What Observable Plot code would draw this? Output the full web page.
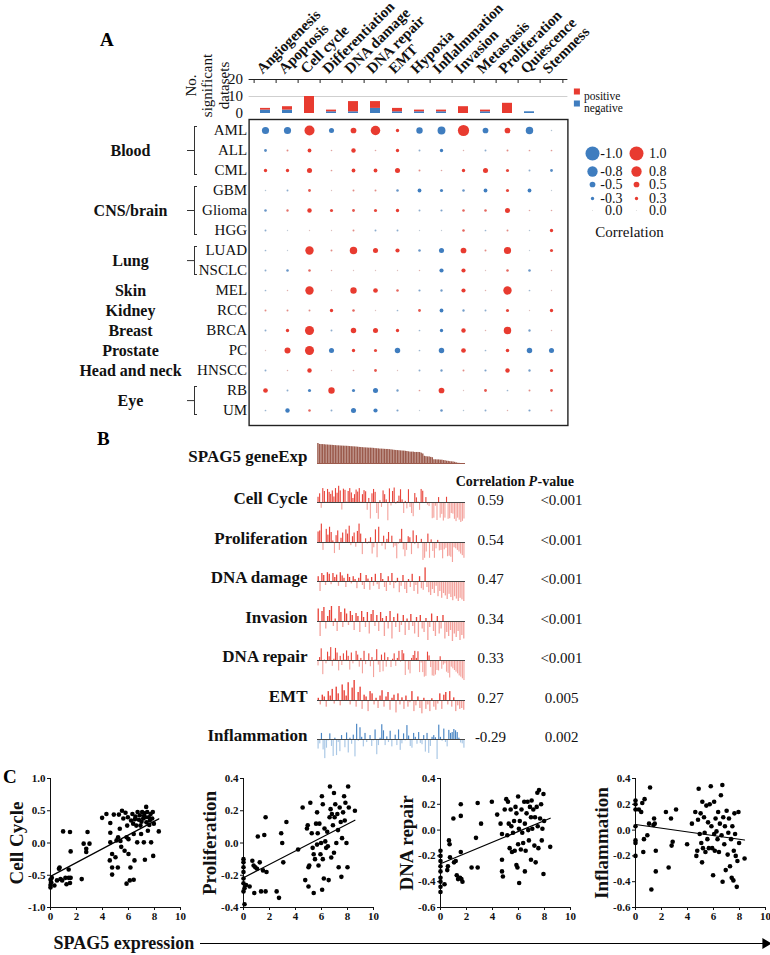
<!DOCTYPE html>
<html><head><meta charset="utf-8">
<script src="https://cdn.jsdelivr.net/npm/d3@7"></script>
<script src="https://cdn.jsdelivr.net/npm/@observablehq/plot@0.6"></script>
<style>
body{margin:0;background:#fff;}
#fig{position:relative;width:770px;height:955px;overflow:hidden;font-family:"Liberation Serif","Times New Roman",serif;}
#fig svg{position:absolute;overflow:visible;background:transparent;}
.letter{position:absolute;font-weight:bold;font-size:19px;line-height:1;color:#000;}
</style></head><body>
<div id="fig">
<div class="letter" style="left:100px;top:30px">A</div>
<div class="letter" style="left:97px;top:429px">B</div>
<div class="letter" style="left:3px;top:767px">C</div>
</div>
<script>
// ---------- DATA ----------
const pathways = ["Angiogenesis","Apoptosis","Cell cycle","Differentiation","DNA damage","DNA repair","EMT","Hypoxia","Inflalmmation","Invasion","Metastasis","Proliferation","Quiescence","Stemness"];
const sigPositive = [1,2,10,1,6,4,2,1,1,4,1,6,0,0];
const sigNegative = [2,2,0,1,1,3,1,1,1,0,1,0,1,0];
const cancerTypes = ["AML","ALL","CML","GBM","Glioma","HGG","LUAD","NSCLC","MEL","RCC","BRCA","PC","HNSCC","RB","UM"];
const groupNames = ["Blood","CNS/brain","Lung","Skin","Kidney","Breast","Prostate","Head and neck","Eye"];
const groupMembers = [["AML","ALL","CML"],["GBM","Glioma","HGG"],["LUAD","NSCLC"],["MEL"],["RCC"],["BRCA"],["PC"],["HNSCC"],["RB","UM"]];
// correlation of SPAG5 with each pathway (rows = cancerTypes, cols = pathways)
const corrRows = [
 [-0.6,-0.6,0.78,-0.45,0.5,0.75,0.3,-0.55,-0.65,0.85,-0.5,0.5,-0.62,-0.08],
 [-0.25,0.15,0.35,0.1,0.4,0.1,0.3,-0.15,-0.3,0.08,-0.15,0.15,0.12,0.12],
 [0.3,0.3,0.45,0.12,0.35,0.35,0.45,0.15,0.1,0.3,0.45,0.28,-0.15,-0.25],
 [-0.08,-0.15,0.25,0.05,0.15,0.15,-0.22,-0.35,-0.28,-0.22,-0.35,0.28,-0.35,-0.05],
 [-0.22,0.2,0.4,0.28,0.25,0.28,0.3,-0.15,-0.18,0.22,0.22,0.45,0.1,0.1],
 [-0.15,-0.05,0.05,0.05,0.15,-0.15,-0.15,-0.05,-0.05,0.22,-0.12,0.15,-0.08,0.3],
 [-0.12,-0.05,0.68,0.15,0.62,0.45,0.38,-0.22,-0.45,0.5,0.15,0.6,-0.05,0.28],
 [-0.15,-0.22,0.22,0.08,0.05,0.05,0.05,0.08,-0.38,0.38,0.05,0.22,-0.22,0.08],
 [-0.12,0.08,0.68,0.05,0.55,0.42,0.22,-0.18,-0.2,0.38,0.08,0.68,-0.12,0.05],
 [0.15,0.15,0.15,0.3,0.22,0.05,-0.12,0.25,-0.35,-0.2,-0.15,0.28,0.05,0.3],
 [-0.15,0.3,0.72,-0.15,0.48,0.45,0.3,-0.12,-0.3,0.4,0.08,0.62,-0.2,0.08],
 [0.05,0.52,0.72,-0.45,0.3,0.28,-0.48,-0.12,-0.48,0.42,-0.12,0.32,-0.48,-0.45],
 [-0.15,0.08,0.4,0.05,0.1,0.25,0.05,-0.15,-0.2,0.15,-0.18,0.4,-0.2,0.28],
 [0.42,-0.15,-0.28,0.55,-0.28,-0.45,-0.2,0.12,0.5,0.05,0.25,-0.12,0.15,0.25],
 [-0.12,-0.4,0.22,-0.15,-0.45,-0.38,-0.18,-0.05,-0.22,-0.08,-0.15,0.08,-0.18,0.18]
];
const legendNeg = [-1.0,-0.8,-0.5,-0.3,0.0];
const legendPos = [1.0,0.8,0.5,0.3,0.0];

// Panel C samples: [SPAG5 expression, pathway score]
const cellCyclePts = [[0,-0.69],[0,-0.65],[0.05,-0.61],[0,-0.57],[0.1,-0.54],[0.3,-0.66],[0.5,-0.58],[0.65,-0.4],[0.7,-0.38],[0.77,-0.56],[0.9,-0.58],[0.97,0.18],[1.15,-0.54],[1.23,-0.64],[1.4,-0.54],[1.5,-0.62],[1.4,-0.41],[1.55,-0.54],[1.5,0.17],[1.55,-0.13],[2.4,-0.56],[2.55,-0.01],[2.75,-0.09],[2.75,-0.14],[2.85,0.17],[3.0,-0.01],[3.97,0.39],[4.3,0.45],[4.6,0.31],[4.6,0.16],[4.6,0.01],[4.56,-0.27],[4.74,-0.17],[4.74,-0.38],[4.74,-0.49],[4.87,0.44],[5.0,-0.22],[5.08,0.04],[5.18,-0.38],[5.26,0.44],[5.33,0.22],[5.38,0.03],[5.44,-0.06],[5.5,0.5],[5.6,0.38],[5.7,-0.12],[5.77,0.47],[5.85,0.09],[5.85,-0.63],[5.9,0.27],[5.95,0.4],[6.0,0.06],[6.0,-0.17],[6.1,-0.58],[6.15,-0.38],[6.2,0.35],[6.3,0.45],[6.36,0.3],[6.4,0.14],[6.4,-0.57],[6.46,-0.27],[6.54,0.41],[6.6,0.27],[6.67,0.01],[6.7,0.48],[6.8,0.36],[6.87,0.43],[6.92,0.27],[6.97,0.14],[7.05,0.48],[7.13,0.38],[7.18,0.01],[7.23,0.46],[7.26,-0.26],[7.3,0.4],[7.36,0.56],[7.38,0.32],[7.44,0.48],[7.49,0.19],[7.56,0.4],[7.64,0.35],[7.7,0.45],[7.74,0.01],[7.82,0.38],[7.87,0.48],[7.9,-0.2],[7.95,0.3],[8.33,0.18],[7.0,0.33],[7.6,0.28],[6.5,0.37],[7.2,0.42],[5.2,0.09]];
const proliferationPts = [[0,-0.1],[0,-0.12],[0,-0.15],[0,-0.18],[0,-0.22],[0,-0.25],[0.08,-0.28],[0,-0.3],[0.08,-0.38],[0.2,-0.26],[0.47,-0.27],[0.68,-0.11],[0.78,-0.14],[0.83,-0.31],[0.91,-0.15],[1.04,-0.16],[1.1,0.04],[1.25,-0.12],[1.35,-0.3],[1.5,-0.17],[1.6,0.05],[1.7,0.16],[1.7,-0.3],[1.77,-0.18],[2.55,-0.3],[2.73,-0.34],[2.9,0.06],[2.98,0.0],[3.06,-0.12],[3.3,0.13],[4.2,-0.04],[4.55,0.22],[4.75,-0.23],[4.88,0.09],[5.0,-0.27],[4.94,0.11],[5.0,-0.15],[5.06,-0.14],[5.14,0.25],[5.25,0.06],[5.32,-0.03],[5.4,-0.07],[5.4,-0.31],[5.5,-0.1],[5.58,0.12],[5.66,0.19],[5.66,-0.01],[5.71,0.06],[5.77,-0.14],[5.84,0.12],[5.92,-0.07],[5.97,0.0],[6.03,0.29],[6.05,-0.29],[6.1,-0.1],[6.1,0.24],[6.18,-0.22],[6.23,0.09],[6.29,0.01],[6.36,-0.03],[6.44,0.07],[6.49,-0.02],[6.55,-0.23],[6.62,0.16],[6.65,0.35],[6.7,0.21],[6.75,-0.09],[6.8,0.18],[6.88,0.11],[6.96,0.31],[6.96,-0.06],[7.01,0.16],[7.06,0.24],[7.14,0.0],[7.22,0.18],[7.27,0.08],[7.32,-0.15],[7.4,0.22],[7.48,0.13],[7.53,-0.21],[7.58,0.03],[7.66,0.19],[7.74,0.29],[7.79,0.14],[7.84,0.25],[7.92,0.0],[8.0,-0.15],[8.05,0.35],[8.1,0.22],[8.57,0.2]];
const dnaRepairPts = [[0,-0.16],[0,-0.2],[0,-0.24],[0,-0.28],[0,-0.32],[0,-0.37],[0,-0.4],[0,-0.44],[0,-0.48],[0.31,-0.42],[0.52,-0.31],[0.57,-0.28],[0.65,-0.08],[0.7,-0.11],[0.73,-0.21],[0.99,0.09],[1.04,-0.25],[1.17,-0.24],[1.25,-0.35],[1.35,-0.38],[1.5,-0.37],[1.56,0.2],[1.61,-0.38],[1.56,0.11],[1.56,-0.17],[1.69,-0.4],[2.39,-0.29],[2.73,-0.06],[2.86,0.21],[2.86,-0.29],[3.12,0.05],[3.95,0.22],[4.36,0.12],[4.62,0.05],[4.73,-0.03],[4.73,-0.23],[4.73,-0.32],[4.8,-0.36],[4.94,0.16],[5.06,0.24],[5.14,-0.04],[5.19,0.22],[5.25,0.05],[5.32,-0.14],[5.4,0.16],[5.45,0.03],[5.5,-0.17],[5.58,-0.02],[5.66,0.07],[5.71,-0.16],[5.77,0.18],[5.84,0.13],[5.84,-0.27],[5.92,-0.29],[5.97,0.26],[5.97,-0.11],[6.03,0.01],[6.05,-0.41],[6.1,0.07],[6.18,-0.15],[6.23,0.16],[6.29,-0.02],[6.36,-0.1],[6.44,0.22],[6.49,0.05],[6.49,-0.32],[6.55,-0.16],[6.62,0.13],[6.7,0.22],[6.75,0.0],[6.8,-0.08],[6.88,0.18],[6.96,0.1],[6.96,-0.23],[7.01,0.23],[7.06,0.01],[7.14,0.16],[7.22,-0.12],[7.27,0.1],[7.32,-0.25],[7.4,0.18],[7.45,0.29],[7.48,0.03],[7.53,-0.14],[7.58,0.31],[7.66,0.09],[7.74,0.2],[7.79,-0.08],[7.84,0.01],[7.92,0.28],[7.92,-0.34],[7.97,0.07],[8.44,-0.13]];
const inflammationPts = [[0,0.23],[0,0.2],[0,0.16],[0,0.03],[0,-0.08],[0,-0.1],[0,-0.2],[0.26,0.16],[0.44,0.14],[0.52,0.21],[0.6,-0.17],[0.65,-0.07],[0.7,0.24],[0.91,-0.04],[1.04,0.05],[1.12,0.33],[1.22,-0.46],[1.38,0.04],[1.43,0.09],[1.48,0.05],[1.56,-0.32],[1.56,-0.16],[2.34,0.14],[2.55,-0.29],[2.73,0.09],[2.78,-0.12],[2.86,-0.09],[3.12,0.16],[3.97,-0.11],[4.34,0.05],[4.6,0.14],[4.68,-0.2],[4.75,-0.16],[4.81,0.08],[4.86,0.32],[4.94,-0.03],[5.01,0.13],[5.06,-0.1],[5.12,-0.25],[5.14,0.22],[5.19,-0.14],[5.27,0.1],[5.32,-0.02],[5.38,-0.17],[5.45,0.19],[5.53,-0.07],[5.58,0.06],[5.64,-0.14],[5.71,0.2],[5.79,0.34],[5.84,0.03],[5.9,-0.14],[5.97,-0.35],[6.05,-0.03],[6.05,0.22],[6.1,-0.16],[6.16,0.09],[6.23,-0.01],[6.31,-0.07],[6.36,0.14],[6.42,-0.17],[6.49,0.05],[6.57,0.27],[6.62,-0.04],[6.68,0.35],[6.7,-0.4],[6.75,0.1],[6.83,-0.11],[6.88,0.03],[6.94,-0.31],[7.01,0.15],[7.09,-0.19],[7.14,-0.02],[7.19,0.09],[7.27,-0.28],[7.35,-0.07],[7.4,-0.37],[7.45,0.03],[7.53,-0.39],[7.56,-0.16],[7.61,0.13],[7.66,-0.03],[7.71,-0.2],[7.79,-0.44],[7.84,-0.24],[7.92,0.14],[7.97,-0.1],[8.39,-0.22]];

// Panel B scores ordered by SPAG5 expression (high -> low) for pathways without a scatter
const dnaDamageScores = [0.12,-0.25,0.2,0.15,-0.1,0.22,0.18,-0.08,0.2,0.1,0.16,-0.12,0.22,0.14,0.08,-0.15,0.18,0.1,-0.06,0.12,0.05,-0.18,0.08,0.2,-0.1,-0.2,0.15,0.06,-0.22,0.1,-0.12,0.18,-0.08,-0.2,0.2,0.05,-0.15,-0.25,0.12,-0.1,0.2,-0.18,-0.05,0.08,-0.28,-0.12,0.15,-0.2,-0.3,0.05,-0.15,0.18,-0.25,-0.1,-0.32,0.12,-0.18,-0.22,0.34,-0.15,-0.28,-0.35,-0.2,-0.3,-0.12,-0.38,-0.25,-0.42,-0.3,-0.36,-0.45,-0.32,-0.4,-0.48,-0.38,-0.44,-0.5,-0.42,-0.46,-0.5];
const invasionScores = [0.25,-0.3,0.2,0.28,-0.15,0.1,0.22,0.3,-0.1,0.05,-0.2,0.3,0.18,-0.12,0.25,0.15,-0.08,0.2,0.12,-0.18,0.16,0.1,-0.22,0.2,0.08,-0.12,0.18,-0.25,0.14,0.22,-0.1,0.12,-0.2,0.18,0.06,-0.3,0.1,-0.15,0.2,-0.35,0.08,-0.12,0.15,-0.22,-0.08,0.12,-0.28,0.05,-0.18,0.14,-0.1,-0.25,0.08,-0.32,0.12,-0.15,-0.22,0.06,-0.38,-0.12,0.15,-0.2,-0.3,0.1,-0.25,-0.15,0.12,-0.35,-0.22,-0.3,-0.18,-0.4,-0.25,-0.32,-0.2,-0.38,-0.28,-0.35];
const emtScores = [0.05,-0.1,0.12,0.08,-0.15,0.2,0.1,0.25,-0.08,0.3,0.15,-0.12,0.35,0.22,0.1,0.4,-0.1,0.28,0.45,-0.15,0.18,0.3,-0.2,0.12,0.08,-0.25,0.2,0.15,-0.1,0.05,-0.18,0.1,0.22,-0.15,0.08,0.18,-0.22,0.05,0.12,-0.28,0.15,-0.1,0.06,-0.2,0.1,-0.15,-0.05,0.2,-0.25,-0.12,0.08,-0.18,-0.3,0.05,-0.2,-0.1,-0.25,0.04,-0.15,-0.22,-0.08,0.15,-0.2,0.12,0.18,-0.1,0.2,-0.15,0.06,-0.25,-0.12,-0.2,-0.18,-0.22];
const panelBLabels = ["Cell Cycle","Proliferation","DNA damage","Invasion","DNA repair","EMT","Inflammation"];
const panelBCorr = [0.59,0.54,0.47,0.34,0.33,0.27,-0.29];
const panelBP = ["<0.001","<0.001","<0.001","<0.001","<0.001","0.005","0.002"];

// ---------- STYLE / LAYOUT ----------
const RED = "#e83b30", BLUE = "#3f7dbf";
const SERIF = '"Liberation Serif", "Times New Roman", serif';
const fig = document.getElementById("fig");
function place(svg, left, top){ svg.style.left = left + "px"; svg.style.top = top + "px"; fig.appendChild(svg); }
const baseStyle = (size, weight) => ({fontFamily: SERIF, fontSize: size + "px", fontWeight: weight || "normal", background: "transparent", overflow: "visible", color: "#111"});

const X0 = 248.6, X1 = 567.4, W = 690;
const STEP = (X1 - X0) / pathways.length;

// ---------- Panel A: bar chart ----------
const sigTable = pathways.flatMap((p, i) => [
  {pathway: p, series: "negative", n: sigNegative[i]},
  {pathway: p, series: "positive", n: sigPositive[i]}
]);
place(Plot.plot({
  width: W, height: 118, marginLeft: X0, marginRight: W - X1, marginTop: 79, marginBottom: 5,
  style: baseStyle(15),
  x: {type: "band", domain: pathways, padding: 0, axis: null},
  y: {domain: [0, 20], ticks: [0, 10, 20], tickSize: 0, tickPadding: 6, label: null},
  color: {domain: ["positive", "negative"], range: [RED, BLUE]},
  marks: [
    Plot.ruleY([10], {stroke: "#cfcfcf"}),
    Plot.barY(sigTable, {x: "pathway", y: "n", fill: "series", insetLeft: 6, insetRight: 6}),
    Plot.ruleY([20], {stroke: "#222"}),
    Plot.ruleX(pathways, {x: d => d, y1: 20, y2: 20, dx: -STEP / 2, insetBottom: -4, stroke: "#222"}),
    Plot.ruleX(pathways.slice(-1), {x: d => d, y1: 20, y2: 20, dx: STEP / 2, insetBottom: -4, stroke: "#222"}),
    Plot.text(pathways, {x: d => d, text: d => d, frameAnchor: "top", rotate: -45, textAnchor: "start", lineAnchor: "bottom", dx: -3, dy: -5, fontWeight: "bold"}),
    Plot.text(["No.\nsignificant\ndatasets"], {text: d => d, frameAnchor: "top-left", dx: -42, dy: 6, rotate: -90, textAnchor: "middle", lineAnchor: "middle", lineHeight: 1.1}),
    Plot.dot(["positive"], {frameAnchor: "top-right", dx: 9, dy: 12, symbol: "square", r: 3.4, fill: d => d}),
    Plot.dot(["negative"], {frameAnchor: "top-right", dx: 9, dy: 24, symbol: "square", r: 3.4, fill: d => d}),
    Plot.text(["positive"], {text: d => d, frameAnchor: "top-right", dx: 16, dy: 12, textAnchor: "start", fontSize: 11.5}),
    Plot.text(["negative"], {text: d => d, frameAnchor: "top-right", dx: 16, dy: 24, textAnchor: "start", fontSize: 11.5})
  ]
}), 0, 0);

// ---------- Panel A: bubble grid ----------
const A_TOP = 110;
const rowRange = [128 - A_TOP, 411 - A_TOP];
const rowStep = (rowRange[1] - rowRange[0]) / (cancerTypes.length - 1);
const corrTable = cancerTypes.flatMap((c, i) => pathways.map((p, j) => ({cancer: c, pathway: p, value: corrRows[i][j]})));
const rScale = {type: "pow", exponent: 1.5, domain: [0, 1], range: [0.6, 7]};
const colorScale = {type: "linear", domain: [-1, -0.3, 0, 0.3, 1], range: [BLUE, BLUE, "#dcdcdc", RED, RED]};
place(Plot.plot({
  width: W, height: 322, marginLeft: X0, marginRight: W - X1, marginTop: 9, marginBottom: 7,
  style: baseStyle(15),
  x: {type: "band", domain: pathways, padding: 0, axis: null},
  y: {type: "point", domain: cancerTypes, range: rowRange, padding: 0, tickSize: 0, tickPadding: 2, label: null},
  r: rScale,
  color: colorScale,
  marks: [
    Plot.frame({stroke: "#222", strokeWidth: 1.4}),
    Plot.dot(corrTable, {x: "pathway", y: "cancer", r: d => Math.abs(d.value), fill: "value"})
  ]
}), 0, A_TOP);

// group labels and brackets
const groups = groupNames.map((g, i) => {
  const m = groupMembers[i];
  return {name: g, n: m.length, first: m[0], last: m[m.length - 1], mid: m[Math.floor((m.length - 1) / 2)]};
});
const oddGroups = groups.filter(g => g.n % 2 === 1);
const evenGroups = groups.filter(g => g.n % 2 === 0);
const bracketGroups = groups.filter(g => g.n > 1);
const oddBr = bracketGroups.filter(g => g.n % 2 === 1);
const evenBr = bracketGroups.filter(g => g.n % 2 === 0);
const BRX = 194, LABX = 130;
place(Plot.plot({
  width: 249, height: 322, margin: 0,
  style: baseStyle(16, "bold"),
  x: {domain: [0, 249], range: [0, 249], axis: null},
  y: {type: "point", domain: cancerTypes, range: rowRange, padding: 0, axis: null},
  marks: [
    Plot.text(oddGroups, {y: "mid", text: "name", frameAnchor: "left", dx: LABX, textAnchor: "middle"}),
    Plot.text(evenGroups, {y: "first", text: "name", frameAnchor: "left", dx: LABX, dy: rowStep / 2, textAnchor: "middle"}),
    Plot.ruleX(bracketGroups, {x: () => BRX, y1: "first", y2: "last", insetTop: -4, insetBottom: -4, stroke: "#333"}),
    Plot.ruleY(bracketGroups, {y: "first", x1: () => BRX, x2: () => BRX + 3, dy: -4, stroke: "#333"}),
    Plot.ruleY(bracketGroups, {y: "last", x1: () => BRX, x2: () => BRX + 3, dy: 4, stroke: "#333"}),
    Plot.ruleY(oddBr, {y: "mid", x1: () => BRX - 7, x2: () => BRX, stroke: "#333"}),
    Plot.ruleY(evenBr, {y: "first", x1: () => BRX - 7, x2: () => BRX, dy: rowStep / 2, stroke: "#333"})
  ]
}), 0, A_TOP);

// correlation legend
const legendRows = [
  ...legendNeg.map((v, i) => ({col: "neg", level: i, v})),
  ...legendPos.map((v, i) => ({col: "pos", level: i, v}))
];
place(Plot.plot({
  width: 130, height: 120, margin: 0,
  style: baseStyle(14),
  x: {type: "point", domain: ["neg", "pos"], range: [32, 76], padding: 0, axis: null},
  y: {type: "linear", domain: [0, 1, 2, 3, 4], range: [23, 41, 54, 68, 80], axis: null},
  r: rScale, color: colorScale,
  marks: [
    Plot.dot(legendRows, {x: "col", y: "level", r: d => Math.abs(d.v), fill: "v"}),
    Plot.text(legendRows, {x: "col", y: "level", text: d => d.v.toFixed(1), dx: 30, textAnchor: "end"}),
    Plot.text(["Correlation"], {text: d => d, frameAnchor: "bottom", dx: 4, dy: -14, textAnchor: "middle", fontSize: 15})
  ]
}), 560, 130);

// ---------- Panel B ----------
const B_LEFT = 100, B_W = 500, B_ML = 217, B_MR = 135;
const byExpr = pts => pts.slice().sort((a, b) => b[0] - a[0]);
const spag5Sorted = byExpr(cellCyclePts).map(d => d[0]);
place(Plot.plot({
  width: B_W, height: 22, marginLeft: B_ML, marginRight: B_MR, marginTop: 2, marginBottom: 0,
  style: baseStyle(17, "bold"),
  x: {type: "band", domain: d3.range(spag5Sorted.length), padding: 0.12, axis: null},
  y: {domain: [0, d3.max(spag5Sorted)], axis: null},
  marks: [
    Plot.barY(spag5Sorted, {x: (d, i) => i, y: d => d, fill: "#9b5a4c"}),
    Plot.ruleY([0], {stroke: "#9b5a4c"}),
    Plot.text(["SPAG5 geneExp"], {text: d => d, frameAnchor: "left", dx: -10, dy: 3, textAnchor: "end"})
  ]
}), B_LEFT, 441);

const panelBValues = [
  byExpr(cellCyclePts).map(d => d[1]),
  byExpr(proliferationPts).map(d => d[1]),
  dnaDamageScores,
  invasionScores,
  byExpr(dnaRepairPts).map(d => d[1]),
  emtScores,
  byExpr(inflammationPts).map(d => d[1])
];
panelBLabels.forEach((label, k) => {
  const values = panelBValues[k];
  const m = d3.max(values, Math.abs);
  const neg = panelBCorr[k] < 0;
  const baseline = 502 + k * 39.5;
  const marks = [
    Plot.barY(values, {x: (d, i) => i, y: d => d, fill: d => d >= 0 ? "up" : "down"}),
    Plot.ruleY([0], {stroke: "#444"}),
    Plot.text([label], {text: d => d, frameAnchor: "left", dx: -10, dy: -4, textAnchor: "end", fontWeight: "bold", fontSize: 17}),
    Plot.text([panelBCorr[k]], {text: d => d.toFixed(2), frameAnchor: "right", dx: 25, dy: -2, textAnchor: "middle"}),
    Plot.text([panelBP[k]], {text: d => d, frameAnchor: "right", dx: 96, dy: -2, textAnchor: "middle"})
  ];
  if (k === 0) {
    marks.push(
      Plot.text(["Correlation"], {text: d => d, frameAnchor: "top-right", dx: 25, dy: -1, textAnchor: "middle", lineAnchor: "middle", fontWeight: "bold", fontSize: 14}),
      Plot.text(["P"], {text: d => d, frameAnchor: "top-right", dx: 63, dy: -1, textAnchor: "start", lineAnchor: "middle", fontWeight: "bold", fontStyle: "italic", fontSize: 14}),
      Plot.text(["-value"], {text: d => d, frameAnchor: "top-right", dx: 72, dy: -1, textAnchor: "start", lineAnchor: "middle", fontWeight: "bold", fontSize: 14})
    );
  }
  place(Plot.plot({
    width: B_W, height: 44, marginLeft: B_ML, marginRight: B_MR, marginTop: 2, marginBottom: 2,
    style: baseStyle(15),
    x: {type: "band", domain: d3.range(values.length), padding: 0.3, axis: null},
    y: {domain: [-m, m], axis: null},
    color: {domain: ["up", "down"], range: neg ? ["#4a86c4", "#a9c7e5"] : ["#e8443a", "#f4a29c"]},
    marks
  }), B_LEFT, baseline - 22);
});

// ---------- Panel C ----------
const scatters = [
  {pts: cellCyclePts, label: "Cell Cycle", domain: [-1, 1], ticks: [-1, -0.5, 0, 0.5, 1], left: 0},
  {pts: proliferationPts, label: "Proliferation", domain: [-0.4, 0.4], ticks: [-0.4, -0.2, 0, 0.2, 0.4], left: 193},
  {pts: dnaRepairPts, label: "DNA repair", domain: [-0.6, 0.4], ticks: [-0.6, -0.4, -0.2, 0, 0.2, 0.4], left: 390},
  {pts: inflammationPts, label: "Inflammation", domain: [-0.6, 0.4], ticks: [-0.6, -0.4, -0.2, 0, 0.2, 0.4], left: 585}
];
scatters.forEach(s => {
  place(Plot.plot({
    width: 190, height: 170, marginLeft: 50, marginRight: 10, marginTop: 13, marginBottom: 28,
    style: baseStyle(11, "bold"),
    x: {domain: [0, 10], ticks: [0, 2, 4, 6, 8, 10], line: true, tickSize: 3, tickPadding: 2, label: null},
    y: {domain: s.domain, ticks: s.ticks, tickFormat: d => d.toFixed(1), line: true, tickSize: 3, tickPadding: 2, label: null},
    marks: [
      Plot.dot(s.pts, {x: d => d[0], y: d => d[1], r: 2.3, fill: "#000"}),
      Plot.linearRegressionY(s.pts, {x: d => d[0], y: d => d[1], stroke: "#000", strokeWidth: 1.2, ci: 0}),
      Plot.text([s.label], {text: d => d, frameAnchor: "left", dx: -34, rotate: -90, textAnchor: "middle", lineAnchor: "middle", fontSize: 19})
    ]
  }), s.left, 765);
});

// bottom axis title with arrow
place(Plot.plot({
  width: 770, height: 36, marginLeft: 200, marginRight: 5, marginTop: 0, marginBottom: 0,
  style: baseStyle(18, "bold"),
  y: {domain: [-1, 1], axis: null},
  marks: [
    Plot.ruleY([0], {stroke: "#000", strokeWidth: 1.2}),
    Plot.dot([0], {frameAnchor: "right", symbol: "triangle", r: 4, rotate: 90, fill: "#000"}),
    Plot.text(["SPAG5 expression"], {text: d => d, frameAnchor: "left", dx: -147, textAnchor: "start"})
  ]
}), 0, 925);
</script>
</body></html>
